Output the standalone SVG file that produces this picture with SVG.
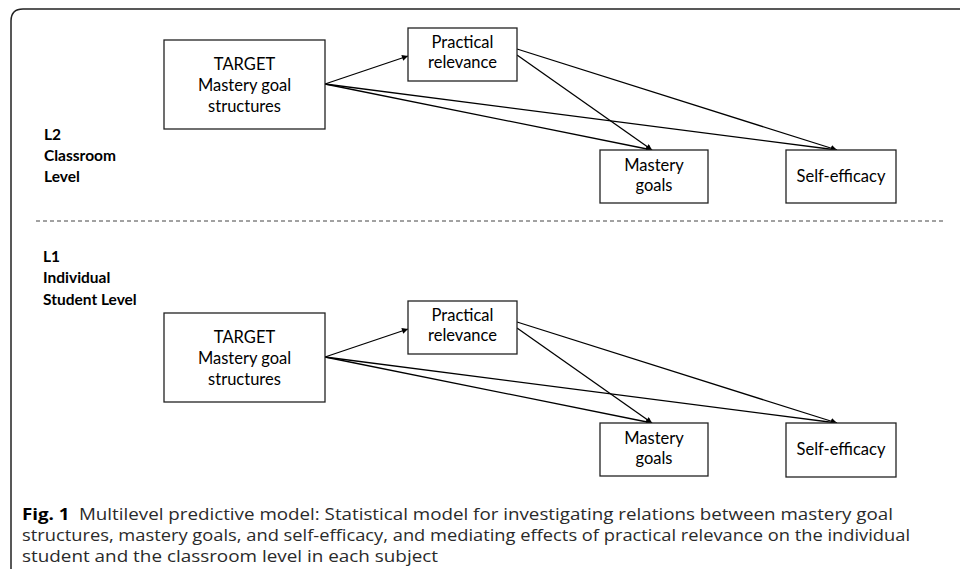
<svg xmlns="http://www.w3.org/2000/svg" width="960" height="569" viewBox="0 0 960 569">
<defs>
<marker id="arr" viewBox="0 0 10 10" refX="10" refY="5" markerWidth="7" markerHeight="6" markerUnits="userSpaceOnUse" orient="auto">
<path d="M0,0 L10,5 L0,10 z" fill="#000"/>
</marker>
<style>
.box{fill:#fff;stroke:#222;stroke-width:1.3}
.nt{font-family:Lato,"Liberation Sans",sans-serif;font-size:16.5px;fill:#000;text-anchor:middle}
.lvl{font-family:Lato,"Liberation Sans",sans-serif;font-size:15.5px;font-weight:bold;fill:#000}
.edge{stroke:#000;stroke-width:1.3;fill:none;marker-end:url(#arr)}
.cap{font-family:"Open Sans","Noto Sans",sans-serif;font-size:16px;fill:#2a2a2a}
</style>
</defs>
<rect width="960" height="569" fill="#fff"/>
<path d="M11,569 V21 Q11,9 23,9 H960" fill="none" stroke="#222" stroke-width="1.5"/>
<line x1="36" y1="221" x2="946" y2="221" stroke="#444" stroke-width="1" stroke-dasharray="4,3"/>
<g id="labels">
<text class="lvl" x="44" y="140">L2</text>
<text class="lvl" x="44" y="161">Classroom</text>
<text class="lvl" x="44" y="182">Level</text>
<text class="lvl" x="43" y="262">L1</text>
<text class="lvl" x="43" y="283">Individual</text>
<text class="lvl" x="43" y="305">Student Level</text>
</g>
<g id="connectors">
<line class="edge" x1="325" y1="84" x2="408" y2="56"/>
<line class="edge" x1="325" y1="84" x2="652" y2="150"/>
<line class="edge" x1="325" y1="84" x2="837" y2="150"/>
<line class="edge" x1="517" y1="49" x2="837" y2="150"/>
<line class="edge" x1="517" y1="55" x2="652" y2="150"/>
<line class="edge" x1="325" y1="357" x2="408" y2="329"/>
<line class="edge" x1="325" y1="357" x2="652" y2="423"/>
<line class="edge" x1="325" y1="357" x2="837" y2="423"/>
<line class="edge" x1="517" y1="322" x2="837" y2="423"/>
<line class="edge" x1="517" y1="328" x2="652" y2="423"/>
</g>
<g id="l2-target">
<rect class="box" x="164" y="40" width="161" height="89"/>
<text class="nt" x="244.5" y="70">TARGET</text>
<text class="nt" x="244.5" y="91">Mastery goal</text>
<text class="nt" x="244.5" y="112">structures</text>
</g>
<g id="l2-practical">
<rect class="box" x="408" y="28" width="109" height="53"/>
<text class="nt" x="462.5" y="48">Practical</text>
<text class="nt" x="462.5" y="68">relevance</text>
</g>
<g id="l2-mastery">
<rect class="box" x="600" y="150" width="108" height="53"/>
<text class="nt" x="654" y="171">Mastery</text>
<text class="nt" x="654" y="191">goals</text>
</g>
<g id="l2-selfefficacy">
<rect class="box" x="786" y="150" width="110" height="53"/>
<text class="nt" x="841" y="182">Self-efficacy</text>
</g>
<g id="l1-target">
<rect class="box" x="164" y="313" width="161" height="89"/>
<text class="nt" x="244.5" y="343">TARGET</text>
<text class="nt" x="244.5" y="364">Mastery goal</text>
<text class="nt" x="244.5" y="385">structures</text>
</g>
<g id="l1-practical">
<rect class="box" x="408" y="301" width="109" height="53"/>
<text class="nt" x="462.5" y="321">Practical</text>
<text class="nt" x="462.5" y="341">relevance</text>
</g>
<g id="l1-mastery">
<rect class="box" x="600" y="423" width="108" height="53"/>
<text class="nt" x="654" y="444">Mastery</text>
<text class="nt" x="654" y="464">goals</text>
</g>
<g id="l1-selfefficacy">
<rect class="box" x="786" y="423" width="110" height="54"/>
<text class="nt" x="841" y="455">Self-efficacy</text>
</g>
<g id="caption">
<text class="cap" x="22" y="520" textLength="871" lengthAdjust="spacingAndGlyphs"><tspan font-weight="bold" fill="#000">Fig. 1</tspan><tspan dx="8">Multilevel predictive model: Statistical model for investigating relations between mastery goal</tspan></text>
<text class="cap" x="22" y="541" textLength="888" lengthAdjust="spacingAndGlyphs">structures, mastery goals, and self-efficacy, and mediating effects of practical relevance on the individual</text>
<text class="cap" x="22" y="562" textLength="416" lengthAdjust="spacingAndGlyphs">student and the classroom level in each subject</text>
</g>
</svg>
